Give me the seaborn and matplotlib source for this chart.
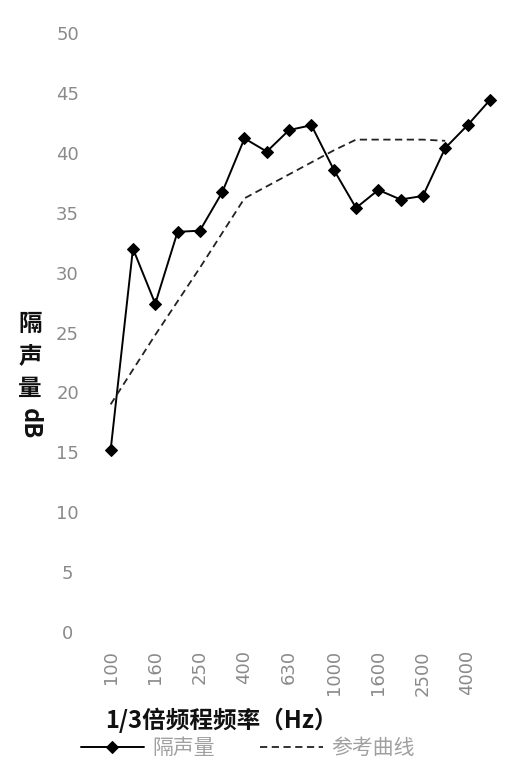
import matplotlib
matplotlib.use('Agg')
import matplotlib.pyplot as plt
import seaborn as sb
import pandas as pd

# 1/3 octave band centre frequencies (Hz)
freqs = ['100', '125', '160', '200', '250', '315', '400', '500', '630',
         '800', '1000', '1250', '1600', '2000', '2500', '3150', '4000', '5000']
# measured sound insulation, dB
measured = [15.2, 32.0, 27.4, 33.4, 33.5, 36.7, 41.2, 40.1, 41.9,
            42.3, 38.6, 35.4, 36.9, 36.1, 36.4, 40.4, 42.3, 44.4]
# reference curve (shifted), 100 .. 3150 Hz
reference = [19.0, 21.9, 24.8, 27.6, 30.4, 33.3, 36.2, 37.2, 38.2,
             39.2, 40.2, 41.1, 41.1, 41.1, 41.1, 41.0]
shown_ticks = ['100', '160', '250', '400', '630', '1000', '1600', '2500', '4000']

df_m = pd.DataFrame({'pos': range(len(measured)), 'R': measured})
df_r = pd.DataFrame({'pos': range(len(reference)), 'R': reference})

sb.set_style('white')
plt.rcParams['font.family'] = ['Noto Sans CJK SC', 'DejaVu Sans']

fig = plt.figure(figsize=(5.26, 7.69), dpi=100)
ax = fig.add_axes([99.5 / 526, 137 / 769, 401.5 / 526, 599 / 769])

sb.lineplot(data=df_m, x='pos', y='R', ax=ax, color='black', linewidth=1.4,
            marker='D', markersize=6, markeredgecolor='black', label='隔声量')
sb.lineplot(data=df_r, x='pos', y='R', ax=ax, color='#222222', linewidth=1.3,
            dashes=False, label='参考曲线')
ax.lines[1].set_linestyle((0, (4, 2.5)))

ax.set_xlim(-0.5, len(freqs) - 0.5)
ax.set_ylim(0, 50)
ax.set_xticks([freqs.index(t) for t in shown_ticks])
ax.set_xticklabels(shown_ticks, rotation=90, fontsize=13, color='#8a8a8a',
                   family='DejaVu Sans')
ax.set_yticks(range(0, 51, 5))
ax.set_yticklabels([str(v) for v in range(0, 51, 5)], fontsize=13,
                   color='#8a8a8a', family='DejaVu Sans')
for lab in ax.get_yticklabels():
    lab.set_ha('center')
ax.tick_params(axis='x', length=0, pad=13)
ax.tick_params(axis='y', length=0, pad=23)
for s in ax.spines.values():
    s.set_visible(False)
ax.set_xlabel('')
ax.set_ylabel('')

fig.text(221 / 526, 1 - 720 / 769, '1/3倍频程频率（Hz）', ha='center', va='center',
         fontsize=17, fontweight='bold', color='#111111')
# y label: CJK characters stacked upright, "dB" turned
for ch, yc in zip('隔声量', [324, 356, 389]):
    fig.text(30 / 526, 1 - yc / 769, ch, ha='center', va='center',
             fontsize=17, fontweight='bold', color='#111111')
fig.text(30 / 526, 1 - 424 / 769, 'dB', ha='center', va='center', rotation=-90,
         fontsize=17, fontweight='bold', color='#111111')

ax.get_legend().remove()
h, l = ax.get_legend_handles_labels()
fig.legend(h, l, loc='center', bbox_to_anchor=(248 / 526, 1 - 748 / 769), ncol=2,
           frameon=False, fontsize=15, handlelength=3.0, columnspacing=2.2,
           labelcolor='#a0a0a0', handletextpad=0.4)

fig.savefig('out.png', dpi=100)
